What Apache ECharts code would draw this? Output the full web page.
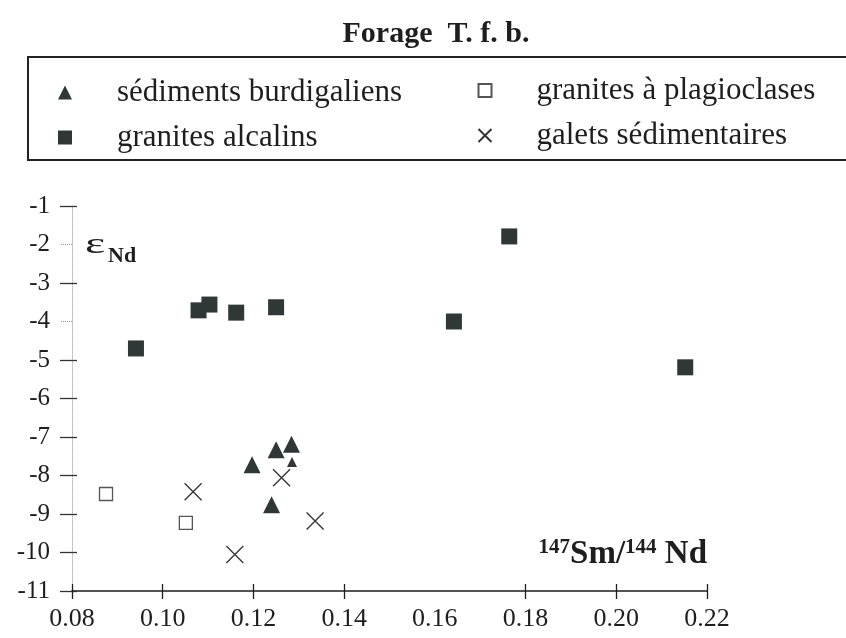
<!DOCTYPE html>
<html>
<head>
<meta charset="utf-8">
<title>Forage T. f. b.</title>
<script src="https://cdn.jsdelivr.net/npm/echarts@6/dist/echarts.min.js"></script>
<style>
  html, body { margin: 0; padding: 0; background: #ffffff; }
  #chart { width: 846px; height: 638px; }
</style>
</head>
<body>
<div id="chart"></div>
<script>
// Sm/Nd ratio (x) and epsilon Nd (y) for each sample group of the T. f. b. borehole
const burdigaliensX = [0.1197, 0.1250, 0.1284, 0.1285, 0.1240];
const burdigaliensY = [-7.72, -7.33, -7.19, -7.65, -8.76];

const alcalinsX = [0.0941, 0.1079, 0.1103, 0.1162, 0.1250, 0.1642, 0.1764, 0.2152];
const alcalinsY = [-4.70, -3.71, -3.56, -3.77, -3.63, -4.00, -1.79, -5.19];

const plagioclasesX = [0.0875, 0.1051];
const plagioclasesY = [-8.48, -9.23];

const galetsX = [0.1067, 0.1262, 0.1336, 0.1159];
const galetsY = [-8.42, -8.06, -9.18, -10.05];

const seriesNames = [
  'sédiments burdigaliens',
  'granites alcalins',
  'granites à plagioclases',
  'galets sédimentaires'
];

const xTickValues = [0.08, 0.10, 0.12, 0.14, 0.18, 0.20, 0.22];
const yStrongTicks = [-1, -3, -5, -6, -7, -8, -9, -10, -11];
const yFaintTicks = [-2, -4];

const zip = (xs, ys) => xs.map((x, i) => [x, ys[i]]);

const SERIF = "'Liberation Serif', 'DejaVu Serif', 'Times New Roman', serif";
const INK = '#1e1e1e';
const MARK = '#2f3836';

const X_MIN = 0.08, X_MAX = 0.22, Y_MIN = -11, Y_MAX = -1;

const chart = echarts.init(document.getElementById('chart'), null, { renderer: 'canvas' });

const gridBox = { left: 72, top: 206, width: 635, height: 385 };

const baseX = { type: 'value', min: X_MIN, max: X_MAX, interval: 0.02, splitLine: { show: false } };
const baseY = { type: 'value', min: Y_MIN, max: Y_MAX, interval: 1, splitLine: { show: false } };

const legendText = { fontFamily: SERIF, fontSize: 31, lineHeight: 31, color: INK, padding: [0, 0, 0, 40] };

const option = {
  backgroundColor: '#ffffff',
  animation: false,
  grid: Object.assign({}, gridBox, { containLabel: false }),
  xAxis: [
    Object.assign({}, baseX, {
      position: 'bottom',
      axisLine: { show: true, onZero: false, lineStyle: { color: INK, width: 1.5 } },
      axisTick: { show: true, inside: false, length: 8, customValues: xTickValues,
                  lineStyle: { color: INK, width: 1.3 } },
      axisLabel: { show: true, margin: 15, fontFamily: SERIF, fontSize: 26, color: INK,
                   formatter: v => v.toFixed(2) }
    }),
    Object.assign({}, baseX, {
      position: 'bottom',
      axisLine: { show: false },
      axisTick: { show: true, inside: true, length: 7, customValues: xTickValues,
                  lineStyle: { color: INK, width: 1.3 } },
      axisLabel: { show: false }
    })
  ],
  yAxis: [
    Object.assign({}, baseY, {
      position: 'left',
      axisLine: { show: true, onZero: false, lineStyle: { color: '#b8b8b8', width: 1, type: 'dotted' } },
      axisTick: { show: true, inside: false, length: 12, customValues: yStrongTicks,
                  lineStyle: { color: '#333', width: 1.3 } },
      axisLabel: { show: true, margin: 22, fontFamily: SERIF, fontSize: 25, color: INK,
                   formatter: v => String(Math.round(v)) }
    }),
    Object.assign({}, baseY, {
      position: 'left',
      axisLine: { show: false },
      axisTick: { show: true, inside: true, length: 5, customValues: yStrongTicks,
                  lineStyle: { color: '#333', width: 1.3 } },
      axisLabel: { show: false }
    }),
    Object.assign({}, baseY, {
      position: 'left',
      axisLine: { show: false },
      axisTick: { show: true, inside: false, length: 12, customValues: yFaintTicks,
                  lineStyle: { color: '#9a9a9a', width: 1, type: 'dotted' } },
      axisLabel: { show: false }
    })
  ],
  legend: [
    {
      orient: 'vertical', left: 53, top: 72, itemGap: 14,
      itemWidth: 14, itemHeight: 14,
      data: [seriesNames[0], seriesNames[1]],
      selectedMode: false,
      textStyle: legendText
    },
    {
      orient: 'vertical', left: 471, top: 70, itemGap: 14,
      itemWidth: 13, itemHeight: 13,
      data: [seriesNames[2], seriesNames[3]],
      selectedMode: false,
      textStyle: legendText
    }
  ],
  series: [
    {
      name: seriesNames[0], type: 'scatter',
      symbol: 'triangle',
      symbolSize: (v, p) => (p.dataIndex === 3 ? 10 : 17),
      itemStyle: { color: MARK, opacity: 1 },
      data: zip(burdigaliensX, burdigaliensY), z: 3
    },
    {
      name: seriesNames[1], type: 'scatter',
      symbol: 'rect', symbolSize: 16,
      itemStyle: { color: MARK, opacity: 1 },
      data: zip(alcalinsX, alcalinsY), z: 3
    },
    {
      name: seriesNames[2], type: 'scatter',
      symbol: 'rect', symbolSize: 13,
      itemStyle: { color: '#ffffff', borderColor: '#555', borderWidth: 1.3, opacity: 1 },
      data: zip(plagioclasesX, plagioclasesY), z: 3
    },
    {
      name: seriesNames[3], type: 'scatter',
      symbol: 'path://M0,0L10,10M10,0L0,10', symbolSize: 17, symbolKeepAspect: true,
      itemStyle: { color: 'none', borderColor: '#333', borderWidth: 1.3, opacity: 1 },
      data: zip(galetsX, galetsY), z: 3
    }
  ],
  graphic: [
    {
      type: 'text', x: 436, y: 34, z: 10,
      style: { text: 'Forage  T. f. b.', fontFamily: SERIF, fontWeight: 'bold', fontSize: 30,
               fill: INK, align: 'center', verticalAlign: 'middle' }
    },
    {
      type: 'rect', z: 1,
      shape: { x: 28, y: 57, width: 830, height: 103 },
      style: { fill: 'none', stroke: '#222', lineWidth: 2 }
    },
    {
      type: 'text', x: 85, y: 245, scaleX: 1.6, z: 10,
      style: { text: 'ε', fontFamily: SERIF, fontSize: 30, fill: INK, align: 'left', verticalAlign: 'middle' }
    },
    {
      type: 'text', x: 108, y: 256, z: 10,
      style: { text: 'Nd', fontFamily: SERIF, fontWeight: 'bold', fontSize: 22, fill: INK,
               align: 'left', verticalAlign: 'middle' }
    },
    {
      type: 'text', x: 707, y: 537, z: 10,
      style: {
        text: '{s|147}{m|Sm/}{s|144}{m| Nd}',
        align: 'right', verticalAlign: 'top',
        rich: {
          m: { fontFamily: SERIF, fontWeight: 'bold', fontSize: 33, lineHeight: 34, fill: INK, verticalAlign: 'bottom' },
          s: { fontFamily: SERIF, fontWeight: 'bold', fontSize: 21, lineHeight: 22, fill: INK, verticalAlign: 'top' }
        }
      }
    }
  ]
};

chart.setOption(option);
</script>
</body>
</html>
